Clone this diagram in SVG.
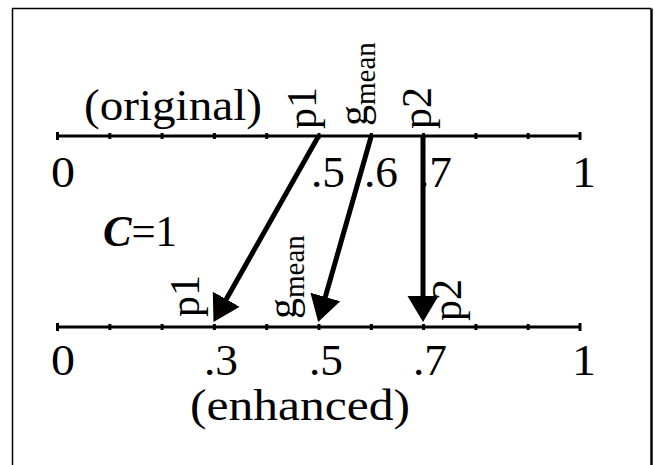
<svg xmlns="http://www.w3.org/2000/svg" width="655" height="465" viewBox="0 0 655 465">
<style>
  text { font-family: "Liberation Serif", "Times New Roman", serif; fill: #000; }
  .lbl { font-size: 44px; }
  .rot { font-size: 42px; }
  .sub { font-size: 29px; }
  .axis { stroke: #000; stroke-width: 3; fill: none; }
  .tick { stroke: #000; stroke-width: 3; }
  .arr { stroke: #000; stroke-width: 5; fill: none; marker-end: url(#head); }
</style>
<defs>
  <marker id="head" markerUnits="userSpaceOnUse" viewBox="0 -16 28 32" refX="15" refY="0" markerWidth="28" markerHeight="32" orient="auto">
    <path d="M0,-15.5 L26,0 L0,15.5 Z" fill="#000"/>
  </marker>
</defs>
<rect width="655" height="465" fill="#fff"/>
<g id="frame">
  <path d="M12.5,465 V8.5 H651" fill="none" stroke="#000" stroke-width="1.5"/>
  <path d="M651.5,8.5 V465" fill="none" stroke="#000" stroke-width="2.5"/>
</g>
<g id="top-axis">
  <line class="axis" x1="57" y1="136" x2="580" y2="136"/>
  <path class="tick" d="M57.5,132 v8 M109.8,133 v6 M162.1,133 v6 M214.4,133 v6 M266.7,133 v6 M319,133 v6 M371.3,133 v6 M423.6,133 v6 M475.9,133 v6 M528.2,133 v6 M580,132 v8"/>
  <text class="lbl" x="84" y="120" textLength="178" lengthAdjust="spacingAndGlyphs">(original)</text>
  <text class="lbl" x="51" y="187" textLength="24" lengthAdjust="spacingAndGlyphs">0</text>
  <text class="lbl" x="311" y="187" textLength="34" lengthAdjust="spacingAndGlyphs">.5</text>
  <text class="lbl" x="364" y="187" textLength="34" lengthAdjust="spacingAndGlyphs">.6</text>
  <text class="lbl" x="418" y="187" textLength="34" lengthAdjust="spacingAndGlyphs">.7</text>
  <text class="lbl" x="572" y="187" textLength="24" lengthAdjust="spacingAndGlyphs">1</text>
</g>
<g id="top-labels">
  <text class="rot" transform="translate(316,129) rotate(-90)">p1</text>
  <text class="rot" transform="translate(367,126) rotate(-90)">g<tspan class="sub" dy="8">mean</tspan></text>
  <text class="rot" transform="translate(431,129) rotate(-90)">p2</text>
</g>
<g id="c-label">
  <text class="lbl" x="103" y="246" textLength="74" lengthAdjust="spacingAndGlyphs"><tspan font-style="italic" font-weight="bold">C</tspan>=1</text>
</g>
<g id="bottom-axis">
  <line class="axis" x1="57" y1="327" x2="580" y2="327"/>
  <path class="tick" d="M57.5,323 v8 M109.8,324 v6 M162.1,324 v6 M214.4,324 v6 M266.7,324 v6 M319,324 v6 M371.3,324 v6 M423.6,324 v6 M475.9,324 v6 M528.2,324 v6 M580,323 v8"/>
  <text class="lbl" x="51" y="375" textLength="24" lengthAdjust="spacingAndGlyphs">0</text>
  <text class="lbl" x="204" y="375" textLength="34" lengthAdjust="spacingAndGlyphs">.3</text>
  <text class="lbl" x="309" y="375" textLength="34" lengthAdjust="spacingAndGlyphs">.5</text>
  <text class="lbl" x="413" y="375" textLength="34" lengthAdjust="spacingAndGlyphs">.7</text>
  <text class="lbl" x="572" y="375" textLength="24" lengthAdjust="spacingAndGlyphs">1</text>
  <text class="lbl" x="190" y="420" textLength="220" lengthAdjust="spacingAndGlyphs">(enhanced)</text>
</g>
<g id="bottom-labels">
  <text class="rot" transform="translate(199,317) rotate(-90)">p1</text>
  <text class="rot" transform="translate(296,319) rotate(-90)">g<tspan class="sub" dy="8">mean</tspan></text>
  <text class="rot" transform="translate(461,321) rotate(-90)">p2</text>
</g>
<g id="connectors">
  <line class="arr" x1="318" y1="137" x2="218.9" y2="312.3"/>
  <line class="arr" x1="371" y1="137" x2="321.2" y2="311.4"/>
  <line class="arr" x1="423" y1="137" x2="423" y2="311"/>
</g>
</svg>
